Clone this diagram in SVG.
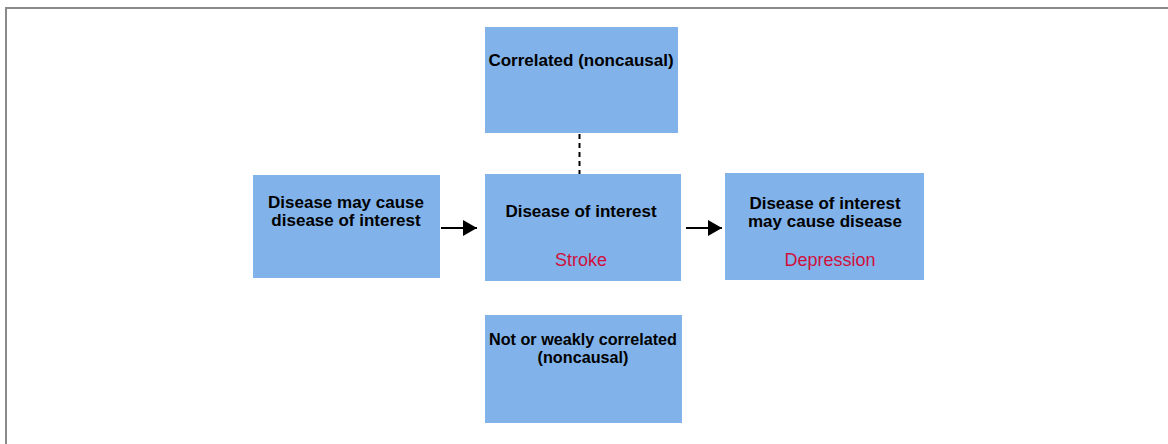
<svg xmlns="http://www.w3.org/2000/svg" width="1168" height="444" viewBox="0 0 1168 444">
<style>
.box{fill:#81b3ea;}
.t{font-family:"Liberation Sans",Arial,sans-serif;font-weight:bold;font-size:17px;fill:#000;text-anchor:middle;}
.s{font-size:16.2px;}
.r{font-family:"Liberation Sans",Arial,sans-serif;font-size:18px;fill:#d0103c;text-anchor:middle;}
.c{stroke:#000;stroke-width:2;fill:none;}
</style>
<defs>
<marker id="ah" markerWidth="14" markerHeight="16" refX="14" refY="8" orient="auto" markerUnits="userSpaceOnUse">
<path d="M0,0 L14,8 L0,16 Z" fill="#000"/>
</marker>
</defs>
<rect width="1168" height="444" fill="#fff"/>
<path d="M6,446 V8 H1170" fill="none" stroke="#8a8a8a" stroke-width="2"/>
<g id="connectors">
<line class="c" x1="441" y1="228" x2="477" y2="228" marker-end="url(#ah)"/>
<line class="c" x1="686" y1="228" x2="722" y2="228" marker-end="url(#ah)"/>
<line class="c" x1="579.5" y1="134" x2="579.5" y2="174" stroke-dasharray="5,4"/>
</g>
<g id="node-correlated">
<rect class="box" x="485" y="27" width="193" height="106"/>
<text class="t" x="581" y="66">Correlated (noncausal)</text>
</g>
<g id="node-cause">
<rect class="box" x="253" y="175" width="187" height="103"/>
<text class="t" x="346" y="208">Disease may cause</text>
<text class="t" x="346" y="226">disease of interest</text>
</g>
<g id="node-interest">
<rect class="box" x="485" y="174" width="196" height="107"/>
<text class="t" x="581" y="217">Disease of interest</text>
<text class="r" x="581" y="266">Stroke</text>
</g>
<g id="node-effect">
<rect class="box" x="725" y="173" width="199" height="107"/>
<text class="t" x="825" y="209">Disease of interest</text>
<text class="t" x="825" y="227">may cause disease</text>
<text class="r" x="830" y="266">Depression</text>
</g>
<g id="node-weak">
<rect class="box" x="485" y="315" width="197" height="108"/>
<text class="t s" x="583" y="345">Not or weakly correlated</text>
<text class="t s" x="583" y="363">(noncausal)</text>
</g>
</svg>
